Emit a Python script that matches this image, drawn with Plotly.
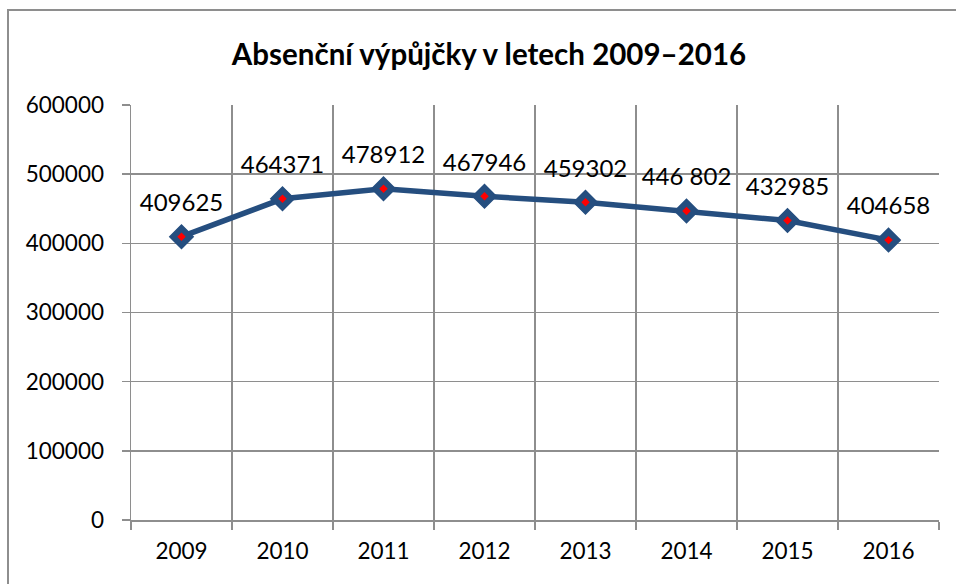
import plotly.graph_objects as go

years = ["2009", "2010", "2011", "2012", "2013", "2014", "2015", "2016"]
loans = [409625, 464371, 478912, 467946, 459302, 446802, 432985, 404658]
labels = ["409625", "464371", "478912", "467946", "459302", "446 802", "432985", "404658"]
y_ticks = [0, 100000, 200000, 300000, 400000, 500000, 600000]

blue = "#254E7F"
grid = "#8E8E8E"
font_family = "Lato, 'Open Sans', sans-serif"

fig = go.Figure()
fig.add_trace(go.Scatter(
    x=years, y=loans, mode="lines+markers",
    line=dict(color=blue, width=5.5),
    marker=dict(symbol="diamond", size=18, color=blue, line=dict(color=blue, width=1.5)),
    hoverinfo="skip", cliponaxis=False,
))
fig.add_trace(go.Scatter(
    x=years, y=loans, mode="markers",
    marker=dict(symbol="diamond", size=6.5, color="#FF0000"),
    hoverinfo="skip", cliponaxis=False,
))
fig.add_trace(go.Scatter(
    x=years, y=loans, mode="markers+text",
    marker=dict(size=30, color="rgba(0,0,0,0)"),
    text=labels, textposition="top center",
    textfont=dict(family=font_family, size=24, color="#000000"),
    hoverinfo="skip", cliponaxis=False,
))

L, R, T, B = 131, 17, 105, 64
W, H = 956, 584
pw, ph = W - L - R, H - T - B

fig.update_layout(
    width=W, height=H,
    margin=dict(l=L, r=R, t=T, b=B),
    paper_bgcolor="white", plot_bgcolor="white",
    showlegend=False,
    font=dict(family=font_family, size=22, color="#000000"),
    title=dict(
        text="<b>Absenční výpůjčky v letech 2009\u20132016</b>",
        x=489 / W, xanchor="center", y=1 - 55 / H, yanchor="middle",
        font=dict(family=font_family, size=29.5, color="#000000"),
    ),
    xaxis=dict(
        type="category", tickson="boundaries",
        showgrid=True, gridcolor=grid, gridwidth=1.5,
        showline=True, linecolor=grid, linewidth=1.5,
        ticks="outside", ticklen=8, tickcolor=grid, tickwidth=1.5,
        ticklabelstandoff=10,
        tickfont=dict(size=22.5), range=[-0.5, 7.5], fixedrange=True,
    ),
    yaxis=dict(
        range=[0, 600000], tickvals=y_ticks, tickformat="d",
        showgrid=True, gridcolor=grid, gridwidth=1.5,
        showline=True, linecolor=grid, linewidth=1.5,
        ticks="outside", ticklen=8, tickcolor=grid, tickwidth=1.5,
        ticklabelstandoff=13,
        tickfont=dict(size=22.5), zeroline=False, fixedrange=True,
    ),
    shapes=[dict(
        type="rect", xref="paper", yref="paper",
        x0=(8 - L) / pw, x1=(W + 20 - L) / pw,
        y0=-(B + 20) / ph, y1=(H - B - 10) / ph,
        line=dict(color=grid, width=2), fillcolor="rgba(0,0,0,0)", layer="below",
    )],
)

fig.write_html("out.html", config={"displayModeBar": False, "staticPlot": True})

with open("out.html", "r", encoding="utf-8") as f:
    html = f.read()
html = html.replace("<body>", '<body style="margin:0;padding:0;overflow:hidden">', 1)
with open("out.html", "w", encoding="utf-8") as f:
    f.write(html)
